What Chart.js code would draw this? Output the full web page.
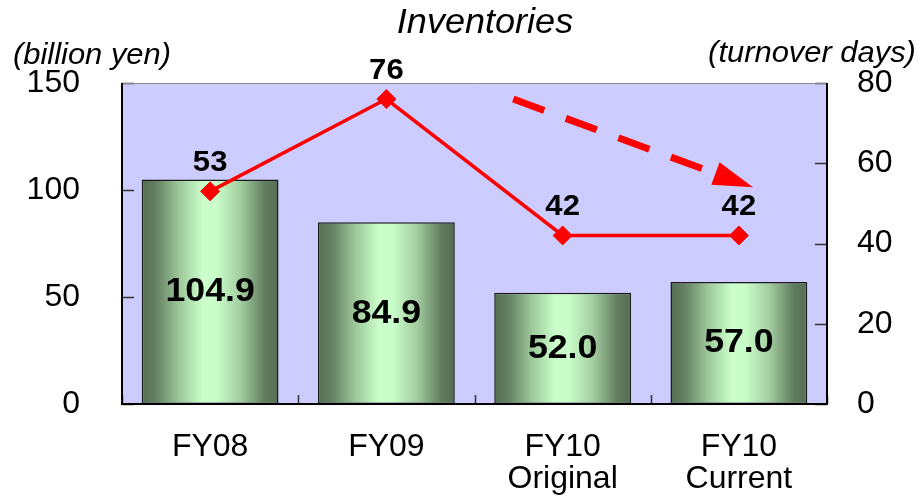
<!DOCTYPE html>
<html>
<head>
<meta charset="utf-8">
<script src="https://cdn.jsdelivr.net/npm/chart.js@4.4.1/dist/chart.umd.min.js"></script>
<style>
  html, body { margin: 0; padding: 0; background: #ffffff; }
  #wrap { width: 921px; height: 503px; }
</style>
</head>
<body>
<div id="wrap"><canvas id="c" width="921" height="503"></canvas></div>
<script>
// Fiscal-year categories (multi-line labels)
const categories = [['FY08'], ['FY09'], ['FY10', 'Original'], ['FY10', 'Current']];
// Inventories, billion yen (bars, left axis)
const inventories = [104.9, 84.9, 52.0, 57.0];
// Inventory turnover, days (line, right axis)
const turnoverDays = [53, 76, 42, 42];
// Axis tick values
const yenTicks = [0, 50, 100, 150];
const dayTicks = [0, 20, 40, 60, 80];
// Downward trend arrow, in category index / turnover-day units
const trendArrow = [{ x: 1.72, y: 76 }, { x: 3.08, y: 54 }];

const FONT = '"Liberation Sans", Arial, Helvetica, sans-serif';
const BAR_FRACTION = 0.776;

function barGradient(ctx) {
  const chart = ctx.chart;
  if (!chart.chartArea || ctx.type !== 'data') return '#9cc498';
  const xs = chart.scales.x;
  const cx = xs.getPixelForValue(ctx.dataIndex);
  const w = (xs.getPixelForValue(1) - xs.getPixelForValue(0)) * BAR_FRACTION;
  const g = chart.ctx.createLinearGradient(cx - w / 2, 0, cx + w / 2, 0);
  g.addColorStop(0.00, '#566e53');
  g.addColorStop(0.10, '#647f61');
  g.addColorStop(0.28, '#9fca9b');
  g.addColorStop(0.45, '#ccffcc');
  g.addColorStop(0.55, '#c8fcc8');
  g.addColorStop(0.72, '#a4cfa1');
  g.addColorStop(0.90, '#627c5f');
  g.addColorStop(1.00, '#566e53');
  return g;
}

// Text drawn slightly widened around its anchor point
function wideText(ctx, text, x, y, stretch) {
  ctx.save();
  ctx.translate(x, y);
  ctx.scale(stretch, 1);
  ctx.fillText(text, 0, 0);
  ctx.restore();
}

const decorations = {
  id: 'decorations',
  beforeDraw(chart) {
    const { ctx, chartArea: a } = chart;
    ctx.save();
    ctx.fillStyle = '#ffffff';
    ctx.fillRect(0, 0, chart.width, chart.height);
    ctx.fillStyle = '#ccccff';
    ctx.fillRect(a.left, a.top, a.right - a.left, a.bottom - a.top);
    ctx.restore();
  },
  beforeDatasetsDraw(chart) {
    const { ctx, chartArea: a, scales } = chart;
    ctx.save();
    // inward tick marks
    ctx.strokeStyle = '#333333';
    ctx.lineWidth = 1.5;
    ctx.beginPath();
    yenTicks.forEach(v => {
      const y = Math.round(scales.y.getPixelForValue(v)) + 0.5;
      ctx.moveTo(a.left, y); ctx.lineTo(a.left + 12, y);
    });
    dayTicks.forEach(v => {
      const y = Math.round(scales.y1.getPixelForValue(v)) + 0.5;
      ctx.moveTo(a.right - 12, y); ctx.lineTo(a.right, y);
    });
    for (let i = 0; i <= categories.length; i++) {
      const x = Math.round(scales.x.getPixelForValue(i - 0.5)) + 0.5;
      ctx.moveTo(x, a.bottom - 9); ctx.lineTo(x, a.bottom);
    }
    ctx.stroke();
    // top border
    ctx.strokeStyle = '#8a8a8a';
    ctx.lineWidth = 1;
    ctx.beginPath();
    ctx.moveTo(a.left, a.top + 0.5); ctx.lineTo(a.right, a.top + 0.5);
    ctx.stroke();
    ctx.restore();
  },
  afterDatasetsDraw(chart) {
    const { ctx, chartArea: a, scales } = chart;
    ctx.save();
    // axis lines
    ctx.strokeStyle = '#000000';
    ctx.lineWidth = 2;
    ctx.beginPath();
    ctx.moveTo(a.left, a.top); ctx.lineTo(a.left, a.bottom);
    ctx.lineTo(a.right, a.bottom); ctx.lineTo(a.right, a.top);
    ctx.stroke();

    // value labels inside the bars
    ctx.fillStyle = '#000000';
    ctx.textAlign = 'center';
    ctx.textBaseline = 'middle';
    ctx.font = 'bold 34px ' + FONT;
    chart.getDatasetMeta(0).data.forEach((el, i) => {
      wideText(ctx, inventories[i].toFixed(1), el.x, (el.y + el.base) / 2, 1.05);
    });
    // turnover-day labels above the points
    ctx.font = 'bold 29px ' + FONT;
    chart.getDatasetMeta(1).data.forEach((el, i) => {
      wideText(ctx, String(turnoverDays[i]), el.x, el.y - 28, 1.07);
    });

    // dashed trend arrow
    const x0 = scales.x.getPixelForValue(trendArrow[0].x);
    const y0 = scales.y1.getPixelForValue(trendArrow[0].y);
    const x1 = scales.x.getPixelForValue(trendArrow[1].x);
    const y1 = scales.y1.getPixelForValue(trendArrow[1].y);
    const len = Math.hypot(x1 - x0, y1 - y0);
    const ux = (x1 - x0) / len, uy = (y1 - y0) / len;
    const headLen = 40, headHalf = 12;
    const bx = x1 - ux * headLen, by = y1 - uy * headLen;
    ctx.strokeStyle = '#ff0000';
    ctx.lineWidth = 7;
    ctx.lineCap = 'butt';
    ctx.setLineDash([33, 23]);
    ctx.beginPath();
    ctx.moveTo(x0, y0); ctx.lineTo(bx, by);
    ctx.stroke();
    ctx.setLineDash([]);
    ctx.fillStyle = '#ff0000';
    ctx.beginPath();
    ctx.moveTo(x1, y1);
    ctx.lineTo(bx - uy * headHalf, by + ux * headHalf);
    ctx.lineTo(bx + uy * headHalf, by - ux * headHalf);
    ctx.closePath();
    ctx.fill();

    // title and axis titles
    ctx.fillStyle = '#000000';
    ctx.textBaseline = 'alphabetic';
    ctx.textAlign = 'center';
    ctx.font = 'italic 35px ' + FONT;
    wideText(ctx, 'Inventories', 485, 33, 1.03);
    ctx.font = 'italic 30px ' + FONT;
    wideText(ctx, '(billion yen)', 92, 64, 1.03);
    wideText(ctx, '(turnover days)', 812, 62, 1.03);
    ctx.restore();
  }
};

new Chart(document.getElementById('c'), {
  data: {
    labels: categories,
    datasets: [
      {
        type: 'bar',
        label: 'Inventories',
        data: inventories,
        yAxisID: 'y',
        backgroundColor: barGradient,
        borderColor: '#1a1a1a',
        borderWidth: 1.5,
        borderSkipped: false,
        barPercentage: BAR_FRACTION,
        categoryPercentage: 1,
        order: 1
      },
      {
        type: 'line',
        label: 'Turnover days',
        data: turnoverDays,
        yAxisID: 'y1',
        borderColor: '#ff0000',
        borderWidth: 3.5,
        tension: 0,
        pointStyle: 'rectRot',
        pointRadius: 9.5,
        pointBackgroundColor: '#ff0000',
        pointBorderColor: '#ff0000',
        pointBorderWidth: 1,
        order: 0
      }
    ]
  },
  options: {
    responsive: false,
    devicePixelRatio: 1,
    animation: false,
    layout: { padding: { top: 83, left: 0, right: 0, bottom: 0 } },
    plugins: { legend: { display: false }, tooltip: { enabled: false }, title: { display: false } },
    scales: {
      x: {
        type: 'category',
        offset: true,
        grid: { display: false, drawTicks: false },
        border: { display: false },
        ticks: {
          color: '#000000',
          font: { family: FONT, size: 32, lineHeight: 1.0 },
          padding: 27,
          maxRotation: 0,
          autoSkip: false
        },
        afterFit: s => { s.height = 99; }
      },
      y: {
        position: 'left',
        min: yenTicks[0],
        max: yenTicks[yenTicks.length - 1],
        afterBuildTicks: s => { s.ticks = yenTicks.map(v => ({ value: v })); },
        grid: { display: false, drawTicks: false },
        border: { display: false },
        ticks: { color: '#000000', font: { family: FONT, size: 32 }, padding: 42 },
        afterFit: s => { s.width = 122; }
      },
      y1: {
        position: 'right',
        min: dayTicks[0],
        max: dayTicks[dayTicks.length - 1],
        afterBuildTicks: s => { s.ticks = dayTicks.map(v => ({ value: v })); },
        grid: { display: false, drawTicks: false },
        border: { display: false },
        ticks: { color: '#000000', font: { family: FONT, size: 32 }, padding: 30 },
        afterFit: s => { s.width = 94; }
      }
    }
  },
  plugins: [decorations]
});
</script>
</body>
</html>
